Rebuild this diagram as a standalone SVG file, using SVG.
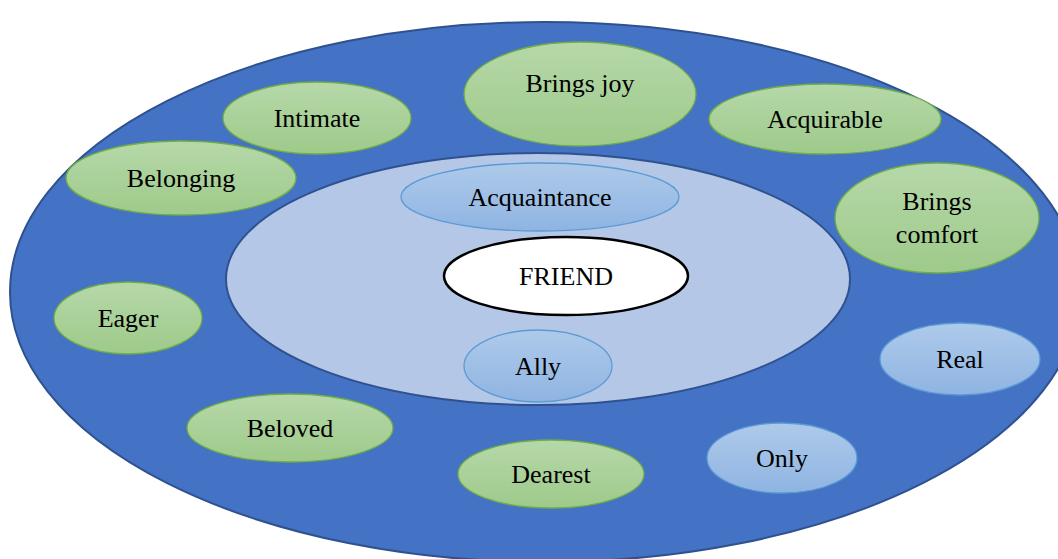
<svg xmlns="http://www.w3.org/2000/svg" width="1058" height="559" viewBox="0 0 1058 559">
<style>
text{font-family:"Liberation Serif","Times New Roman",serif;font-size:26px;fill:#000;text-anchor:middle;dominant-baseline:central}
.g{fill:url(#gg);stroke:#70AD47;stroke-width:1.3}
.b{fill:url(#bg);stroke:#5B9BD5;stroke-width:1.3}
</style>
<defs>
<linearGradient id="gg" x1="0" y1="0" x2="0" y2="1"><stop offset="0" stop-color="#B6D8A9"/><stop offset="1" stop-color="#9ECA8A"/></linearGradient>
<linearGradient id="bg" x1="0" y1="0" x2="0" y2="1"><stop offset="0" stop-color="#AECAEA"/><stop offset="1" stop-color="#8FB4E2"/></linearGradient>
</defs>
<rect width="1058" height="559" fill="#fff"/>
<g id="outer"><ellipse cx="545" cy="292" rx="535" ry="270" fill="#4472C4" stroke="#2F528F" stroke-width="2"/></g>
<g id="inner"><ellipse cx="538" cy="279" rx="312" ry="126" fill="#B4C7E7" stroke="#2F528F" stroke-width="2"/></g>
<g id="acquaintance"><ellipse class="b" cx="540" cy="197" rx="139" ry="34"/><text x="540" y="197">Acquaintance</text></g>
<g id="friend"><ellipse cx="566" cy="276" rx="122" ry="39" fill="#fff" stroke="#000" stroke-width="2.5"/><text x="566" y="276">FRIEND</text></g>
<g id="ally"><ellipse class="b" cx="538" cy="366" rx="74" ry="36"/><text x="538" y="366">Ally</text></g>
<g id="bringsjoy"><ellipse class="g" cx="580" cy="94" rx="116" ry="52"/><text x="580" y="83">Brings joy</text></g>
<g id="intimate"><ellipse class="g" cx="317" cy="118" rx="94" ry="36"/><text x="317" y="118">Intimate</text></g>
<g id="acquirable"><ellipse class="g" cx="825" cy="119" rx="116" ry="35"/><text x="825" y="119">Acquirable</text></g>
<g id="belonging"><ellipse class="g" cx="181" cy="178" rx="115" ry="37"/><text x="181" y="178">Belonging</text></g>
<g id="bringscomfort"><ellipse class="g" cx="937" cy="218" rx="102" ry="55"/><text x="937" y="201">Brings</text><text x="937" y="234">comfort</text></g>
<g id="eager"><ellipse class="g" cx="128" cy="318" rx="74" ry="36"/><text x="128" y="318">Eager</text></g>
<g id="beloved"><ellipse class="g" cx="290" cy="428" rx="103" ry="34"/><text x="290" y="428">Beloved</text></g>
<g id="dearest"><ellipse class="g" cx="551" cy="474" rx="93" ry="34"/><text x="551" y="474">Dearest</text></g>
<g id="real"><ellipse class="b" cx="960" cy="359" rx="80" ry="36"/><text x="960" y="359">Real</text></g>
<g id="only"><ellipse class="b" cx="782" cy="458" rx="75" ry="35"/><text x="782" y="458">Only</text></g>
<g id="connectors"/>
</svg>
